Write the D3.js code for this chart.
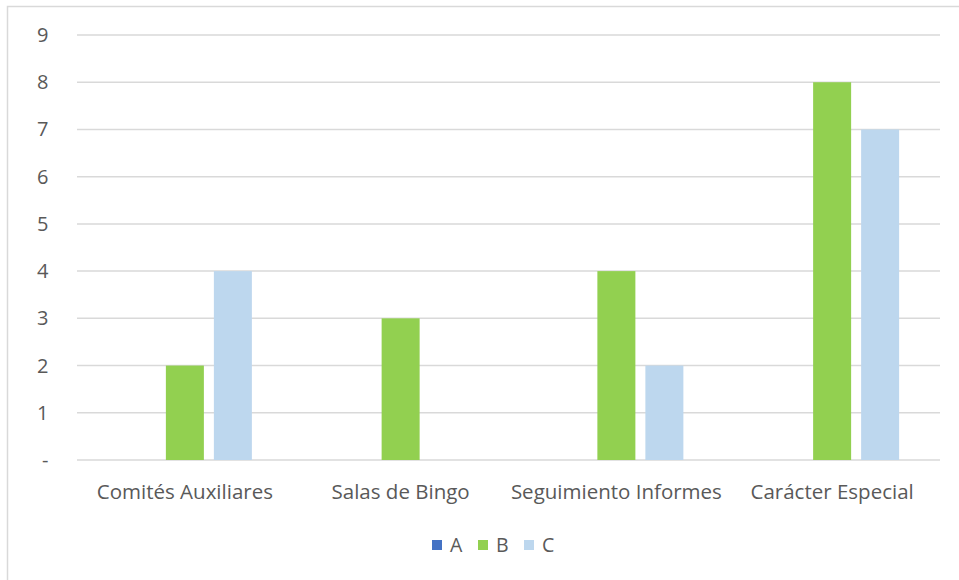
<!DOCTYPE html>
<html>
<head>
<meta charset="utf-8">
<script src="https://cdn.jsdelivr.net/npm/d3@7"></script>
<style>
  body { margin: 0; background: #fff; }
  svg { display: block; font-family: "Open Sans", Lato, sans-serif; }
</style>
</head>
<body>
<div id="chart"></div>
<script>
const categories = ['Comités Auxiliares', 'Salas de Bingo', 'Seguimiento Informes', 'Carácter Especial'];
const series = ['A', 'B', 'C'];
const valuesA = [0, 0, 0, 0];
const valuesB = [2, 3, 4, 8];
const valuesC = [4, 0, 2, 7];
const yTicks = [0, 1, 2, 3, 4, 5, 6, 7, 8, 9];

const colors = ['#4472C4', '#92D050', '#BDD7EE'];
const allValues = [valuesA, valuesB, valuesC];

const W = 959, H = 580;
const svg = d3.select('#chart').append('svg')
    .attr('width', W).attr('height', H);

// marco del grafico
svg.append('rect')
    .attr('x', 7.5).attr('y', 6.5)
    .attr('width', W + 10).attr('height', H + 10)
    .attr('fill', 'white')
    .attr('stroke', '#d9d9d9')
    .attr('stroke-width', 1.5);

const plotL = 77, plotR = 940, plotT = 35, plotB = 460;

const x = d3.scaleBand().domain(categories).range([plotL, plotR]);
const y = d3.scaleLinear().domain([0, 9]).range([plotB, plotT]);

// lineas de grilla
svg.selectAll('.grid')
    .data(yTicks)
    .join('line')
    .attr('class', 'grid')
    .attr('x1', plotL).attr('x2', plotR)
    .attr('y1', d => y(d)).attr('y2', d => y(d))
    .attr('stroke', '#d9d9d9')
    .attr('stroke-width', 1.5);

// etiquetas eje y
svg.selectAll('.ylab')
    .data(yTicks)
    .join('text')
    .attr('class', 'ylab')
    .attr('x', 48.5)
    .attr('y', d => y(d))
    .attr('dy', '0.35em')
    .attr('text-anchor', 'end')
    .attr('fill', '#595959')
    .attr('font-size', 20)
    .text(d => d === 0 ? '-' : d);

// barras
const barW = 38, pitch = 48;
const x1 = d3.scaleBand().domain(series)
    .range([-pitch * 1.5, pitch * 1.5]);

series.forEach((s, si) => {
  svg.selectAll('.bar-' + s)
      .data(categories)
      .join('rect')
      .attr('class', 'bar-' + s)
      .attr('x', (d, i) => x(d) + x.bandwidth() / 2 + x1(s) + (pitch - barW) / 2)
      .attr('y', (d, i) => y(allValues[si][i]))
      .attr('width', barW)
      .attr('height', (d, i) => plotB - y(allValues[si][i]))
      .attr('fill', colors[si]);
});

// etiquetas categorias
svg.selectAll('.xlab')
    .data(categories)
    .join('text')
    .attr('class', 'xlab')
    .attr('x', d => x(d) + x.bandwidth() / 2)
    .attr('y', 492)
    .attr('dy', '0.35em')
    .attr('text-anchor', 'middle')
    .attr('fill', '#595959')
    .attr('font-size', 20.5)
    .text(d => d);

// leyenda
const legendX = [432, 478, 524];
const legend = svg.selectAll('.leg')
    .data(series)
    .join('g')
    .attr('class', 'leg')
    .attr('transform', (d, i) => `translate(${legendX[i]},545)`);
legend.append('rect')
    .attr('x', 0).attr('y', -5)
    .attr('width', 10).attr('height', 10)
    .attr('fill', (d, i) => colors[i]);
legend.append('text')
    .attr('x', 18).attr('y', 0)
    .attr('dy', '0.35em')
    .attr('fill', '#595959')
    .attr('font-size', 19.5)
    .text(d => d);
</script>
</body>
</html>
